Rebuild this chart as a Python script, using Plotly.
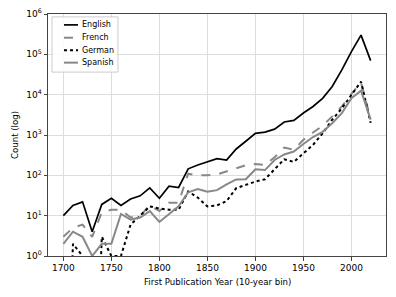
import plotly.graph_objects as go

years = list(range(1700, 2021, 10))

english = [10, 18, 22, 4, 19, 27, 18, 26, 31, 49, 27, 54, 50, 145, 180, 220, 260, 240, 450, 700,
           1100, 1180, 1400, 2100, 2300, 3500, 5100, 8100, 16000, 41000, 117000, 300000, 70000]
french = [3, 5, 6, 3, 12, 14, 14, 9, 10, 18, 13, 21, 21, 110, 100, 100, 105, 124, 148, 178,
          190, 180, 280, 490, 430, 760, 1150, 1700, 2900, 5100, 10500, 20000, 2500]
german = [0, 2, 1, 0, 3, 1, 1, 6, 10, 17, 15, 14, 14, 40, 28, 17, 18, 23, 48, 58,
          70, 80, 140, 250, 215, 350, 570, 1100, 2400, 4600, 10000, 21000, 2000]
spanish = [2, 4, 3, 1, 2, 2, 11, 8, 9, 13, 7, 11, 17, 38, 46, 39, 43, 60, 79, 80,
           142, 135, 240, 330, 390, 600, 890, 1200, 1950, 3500, 8200, 12600, 2400]

series = [
    ("English", english, "#000000", "solid", 1.7),
    ("French", french, "#888888", "dash", 2.0),
    ("German", german, "#000000", "dot", 2.0),
    ("Spanish", spanish, "#888888", "solid", 2.0),
]

fig = go.Figure()
for name, vals, color, dash, width in series:
    # zeros are clipped off the bottom of the log axis, as in the source
    yv = [v if v > 0 else 1e-6 for v in vals]
    fig.add_trace(go.Scatter(x=years, y=yv, name=name, mode="lines", showlegend=False,
                             line=dict(color=color, dash=dash, width=width)))

# compact legend box (matplotlib style)
fig.add_shape(type="rect", xref="paper", yref="paper", x0=0.0118, x1=0.207, y0=0.760, y1=0.988,
              line=dict(color="#cccccc", width=1), fillcolor="rgba(255,255,255,0.85)", layer="above")
row_y = [0.955, 0.902, 0.850, 0.799]
for (name, vals, color, dash, width), ry in zip(series, row_y):
    fig.add_shape(type="line", xref="paper", yref="paper", x0=0.0473, x1=0.0888, y0=ry, y1=ry,
                  line=dict(color=color, dash=dash, width=width), layer="above")
    fig.add_annotation(xref="paper", yref="paper", x=0.0947, y=ry, text=name, showarrow=False,
                       xanchor="left", yanchor="middle",
                       font=dict(family="DejaVu Sans", size=8, color="#000000"))

font = dict(family="DejaVu Sans", size=9, color="#000000")
tickvals = [10 ** k for k in range(0, 7)]
ticktext = ["10<sup>%d</sup>" % k for k in range(0, 7)]

fig.add_annotation(xref="paper", yref="paper", x=0.5, y=-0.107, text="First Publication Year (10-year bin)",
                   showarrow=False, xanchor="center", yanchor="middle",
                   font=dict(family="DejaVu Sans", size=8.6, color="#000000"))
fig.add_annotation(xref="paper", yref="paper", x=-0.0976, y=0.5, text="Count (log)", textangle=-90,
                   showarrow=False, xanchor="center", yanchor="middle",
                   font=dict(family="DejaVu Sans", size=8.6, color="#000000"))

fig.update_layout(
    width=396, height=297,
    margin=dict(l=48, r=10, t=14, b=41, autoexpand=False),
    paper_bgcolor="white", plot_bgcolor="white",
    font=font,
    showlegend=False,
    xaxis=dict(range=[1684, 2036], tickvals=[1700, 1750, 1800, 1850, 1900, 1950, 2000],
               showgrid=True, gridcolor="#dddddd", gridwidth=1,
               showline=True, linecolor="#444444", linewidth=1, mirror=True,
               ticks="outside", ticklen=3.5, tickcolor="#444444",
               zeroline=False, automargin=False),
    yaxis=dict(type="log", range=[0, 6], tickvals=tickvals, ticktext=ticktext,
               showgrid=True, gridcolor="#dddddd", gridwidth=1,
               showline=True, linecolor="#444444", linewidth=1, mirror=True,
               ticks="outside", ticklen=3.5, tickcolor="#444444",
               zeroline=False, automargin=False),
)

fig.write_html("out.html", config={"responsive": False, "displayModeBar": False},
               post_script="document.body.style.margin='0';document.body.style.overflow='hidden';")
